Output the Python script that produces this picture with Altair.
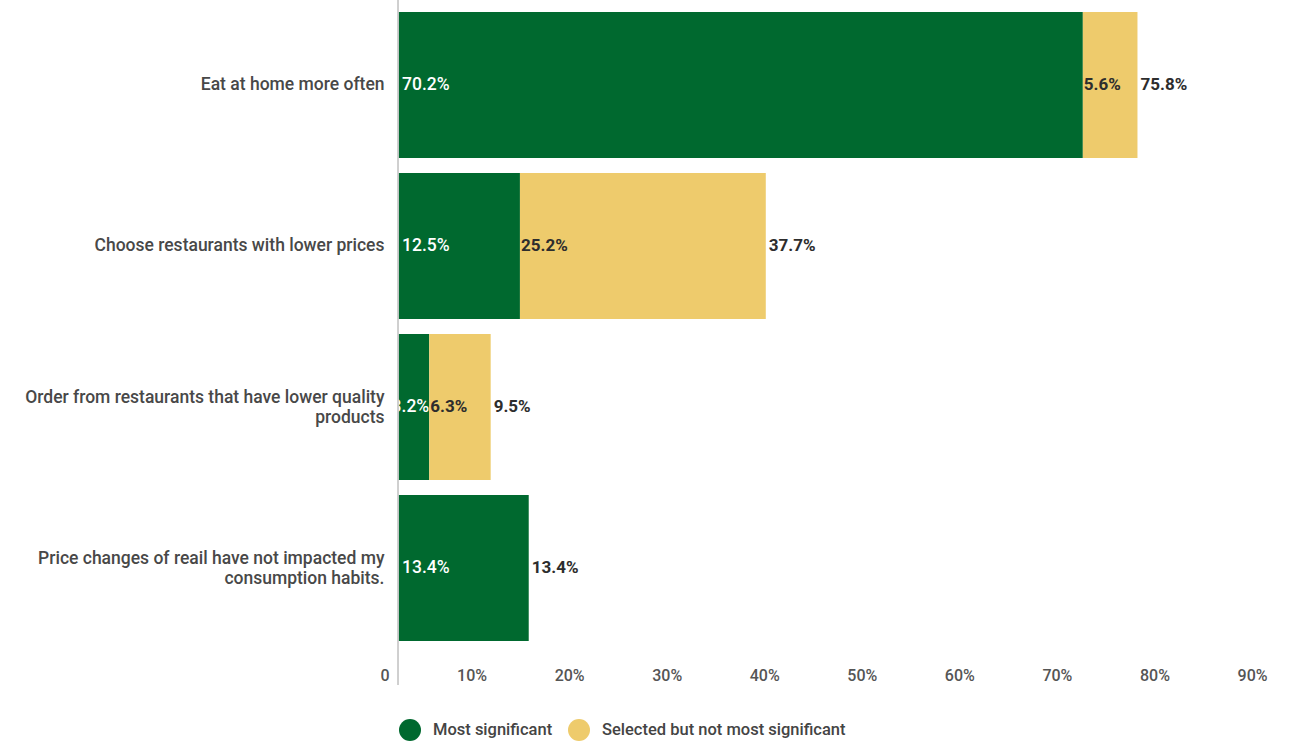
import altair as alt
import pandas as pd

categories = [
    "Eat at home more often",
    "Choose restaurants with lower prices",
    "Order from restaurants that have lower quality\nproducts",
    "Price changes of reail have not impacted my\nconsumption habits.",
]
most_significant = [70.2, 12.5, 3.2, 13.4]
selected_not_most = [5.6, 25.2, 6.3, 0.0]
totals = [75.8, 37.7, 9.5, 13.4]
series = ["Most significant", "Selected but not most significant"]
colors = ["#00692F", "#EECB6C"]
x_ticks = [0, 10, 20, 30, 40, 50, 60, 70, 80, 90]

rows = []
for c, m, s in zip(categories, most_significant, selected_not_most):
    rows.append({"cat": c, "series": series[0], "start": 0.0, "end": m, "value": m})
    if s > 0:
        rows.append({"cat": c, "series": series[1], "start": m, "end": m + s, "value": s})
seg = pd.DataFrame(rows)
seg["label"] = seg["value"].map(lambda v: f"{v:.1f}%")
tot = pd.DataFrame({"cat": categories, "total": totals})
tot["label"] = tot["total"].map(lambda v: f"{v:.1f}%")

green = seg[seg["series"] == series[0]]
yellow = seg[seg["series"] == series[1]]

FONT = "Roboto"
yscale = alt.Scale(domain=categories, paddingInner=0.093, paddingOuter=0.075)
xscale = alt.Scale(domain=[0, 90], nice=False)

y_enc = alt.Y(
    "cat:N",
    sort=categories,
    scale=yscale,
    title=None,
    axis=alt.Axis(
        domain=False,
        ticks=False,
        labelPadding=14,
        labelFontSize=17.5,
        labelFont=FONT,
        labelFontWeight=500,
        labelColor="#484848",
        labelLineHeight=20,
        labelLimit=400,
        labelExpr="split(datum.label, '\\n')",
        labelOffset={"condition": {"test": "indexof(datum.value, '\\n') >= 0", "value": -9}, "value": 0},
    ),
)

bars = alt.Chart(seg).mark_bar().encode(
    y=y_enc,
    x=alt.X(
        "start:Q",
        scale=xscale,
        title=None,
        axis=alt.Axis(
            values=x_ticks,
            domain=False,
            ticks=False,
            grid=False,
            labelAlign="right",
            labelOffset=-9,
            labelPadding=14,
            labelFontSize=16,
            labelFont=FONT,
            labelFontWeight=500,
            labelColor="#555555",
            labelExpr="datum.value == 0 ? '0' : datum.value + '%'",
        ),
    ),
    x2="end:Q",
    color=alt.Color(
        "series:N",
        scale=alt.Scale(domain=series, range=colors),
        title=None,
        legend=alt.Legend(
            orient="none",
            direction="horizontal",
            legendX=1,
            legendY=719,
            symbolType="circle",
            symbolSize=484,
            symbolStrokeWidth=0,
            labelFontSize=16.5,
            labelFont=FONT,
            labelFontWeight=500,
            labelColor="#444444",
            labelOffset=12,
            columnPadding=15,
            labelLimit=400,
        ),
    ),
)

ycat = alt.Y("cat:N", sort=categories, scale=yscale)

green_labels_wide = alt.Chart(green[green["value"] >= 5]).mark_text(
    align="left", baseline="middle", dx=4, color="white", fontSize=17.5, font=FONT, fontWeight=500
).encode(y=ycat, x=alt.X("start:Q", scale=xscale), text="label:N")

green_labels_narrow = alt.Chart(green[green["value"] < 5]).mark_text(
    align="right", baseline="middle", dx=0, color="white", fontSize=17.5, font=FONT, fontWeight=500
).encode(y=ycat, x=alt.X("end:Q", scale=xscale), text="label:N")

yellow_labels = alt.Chart(yellow).mark_text(
    align="left", baseline="middle", dx=1, color="#2d2d2d", fontSize=17, font=FONT, fontWeight="bold"
).encode(y=ycat, x=alt.X("start:Q", scale=xscale), text="label:N")

total_labels = alt.Chart(tot).mark_text(
    align="left", baseline="middle", dx=3, color="#2d2d2d", fontSize=17, font=FONT, fontWeight="bold"
).encode(y=ycat, x=alt.X("total:Q", scale=xscale), text="label:N")

axis_line = alt.Chart(tot).mark_rule(color="#cccccc", strokeWidth=1).encode(
    x=alt.value(0), y=alt.value(0), y2=alt.value(685)
)

chart = (
    alt.layer(bars, green_labels_wide, green_labels_narrow, yellow_labels, total_labels, axis_line)
    .properties(
        width=878,
        height=653,
        background="white",
        autosize=alt.AutoSizeParams(type="none"),
        padding={"left": 398, "top": 0, "right": 10, "bottom": 88},
    )
    .configure_view(strokeWidth=0, stroke="transparent")
)

chart.save("out.html", embed_options={"renderer": "svg", "actions": False})
